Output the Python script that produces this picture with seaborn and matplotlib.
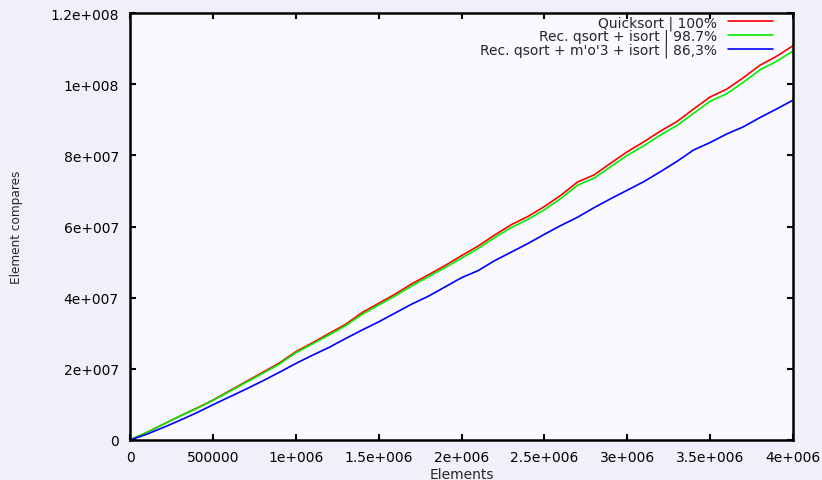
import matplotlib
matplotlib.use("Agg")
import matplotlib.pyplot as plt
import seaborn as sns
import pandas as pd
from matplotlib.ticker import FixedLocator, FixedFormatter

# Data (millions of compares), x step 100000
elements = [i * 100000 for i in range(41)]
quicksort = [0, 2.1, 4.4, 6.7, 8.9, 11.2, 13.8, 16.4, 19.0, 21.6,
             24.8, 27.3, 29.9, 32.5, 35.8, 38.4, 41.0, 43.9, 46.4, 49.0,
             51.8, 54.5, 57.6, 60.5, 62.8, 65.6, 68.8, 72.5, 74.5, 77.8,
             81.0, 83.8, 86.8, 89.5, 93.0, 96.4, 98.6, 101.8, 105.3, 107.8,
             110.8]
rec_isort = [0, 2.1, 4.4, 6.7, 8.8, 11.1, 13.6, 16.2, 18.7, 21.3,
             24.5, 27.0, 29.5, 32.1, 35.3, 37.9, 40.5, 43.3, 45.9, 48.4,
             51.1, 53.8, 56.9, 59.7, 62.0, 64.7, 67.9, 71.6, 73.6, 76.8,
             80.0, 82.7, 85.7, 88.4, 91.8, 95.2, 97.3, 100.5, 104.0, 106.4,
             109.3]
rec_mo3 = [0, 1.6, 3.5, 5.5, 7.6, 9.9, 12.1, 14.3, 16.6, 19.0,
           21.5, 23.8, 26.0, 28.5, 30.9, 33.2, 35.7, 38.2, 40.4, 43.0,
           45.6, 47.6, 50.4, 52.8, 55.2, 57.8, 60.3, 62.6, 65.3, 67.8,
           70.2, 72.6, 75.4, 78.3, 81.5, 83.6, 86.0, 88.0, 90.6, 93.0,
           95.5]
series_names = ["Quicksort | 100%", "Rec. qsort + isort | 98.7%",
                "Rec. qsort + m'o'3 + isort | 86,3%"]
series_colors = ["#ff0000", "#00ee00", "#0000ff"]

x_ticks = [0, 500000, 1000000, 1500000, 2000000, 2500000, 3000000, 3500000, 4000000]
x_tick_labels = ["0", "500000", "1e+006", "1.5e+006", "2e+006", "2.5e+006",
                 "3e+006", "3.5e+006", "4e+006"]
y_ticks = [0, 2e7, 4e7, 6e7, 8e7, 1e8, 1.2e8]
y_tick_labels = ["0", "2e+007", "4e+007", "6e+007", "8e+007", "1e+008", "1.2e+008"]

rows = []
for name, vals in zip(series_names, [quicksort, rec_isort, rec_mo3]):
    for x, v in zip(elements, vals):
        rows.append({"Elements": x, "Compares": v * 1e6, "Series": name})
df = pd.DataFrame(rows)

sns.set_style("ticks")
plt.rcParams["font.family"] = ["DejaVu Sans"]

fig = plt.figure(figsize=(8.22, 4.81), dpi=100, facecolor="#f0f0fa")
ax = fig.add_axes([130 / 822, 1 - 441 / 481, (793 - 130) / 822, (441 - 14) / 481])
ax.set_facecolor("#f9f9fe")

sns.lineplot(data=df, x="Elements", y="Compares", hue="Series",
             hue_order=series_names, palette=series_colors,
             linewidth=1.2, ax=ax, legend=False)

for name, c in zip(series_names, series_colors):
    ax.plot([], [], color=c, linewidth=1.2, label=name)

ax.set_xlim(0, 4000000)
ax.set_ylim(0, 1.2e8)
ax.xaxis.set_major_locator(FixedLocator(x_ticks))
ax.xaxis.set_major_formatter(FixedFormatter(x_tick_labels))
ax.yaxis.set_major_locator(FixedLocator(y_ticks))
ax.yaxis.set_major_formatter(FixedFormatter(y_tick_labels))

ax.tick_params(axis="both", direction="in", length=4, width=1.5,
               top=True, right=True, labelsize=10, colors="black")
ax.tick_params(axis="x", pad=7)
ax.tick_params(axis="y", pad=8)
for s in ax.spines.values():
    s.set_linewidth(1.8)
    s.set_color("black")
    s.set_visible(True)

ax.set_xlabel("Elements", fontsize=10)
ax.set_ylabel("Element compares", fontsize=8.7)
ax.xaxis.set_label_coords(0.5, -0.063)
ax.yaxis.set_label_coords(-0.162, 0.5)

leg = ax.legend(loc="upper right", bbox_to_anchor=(1 - 18 / 663, 1.0),
                frameon=False, markerfirst=False, fontsize=10,
                handlelength=3.2, handletextpad=0.8, labelspacing=-0.05,
                borderaxespad=0.0, borderpad=0.15)

fig.savefig("out.png", dpi=100, facecolor=fig.get_facecolor())
